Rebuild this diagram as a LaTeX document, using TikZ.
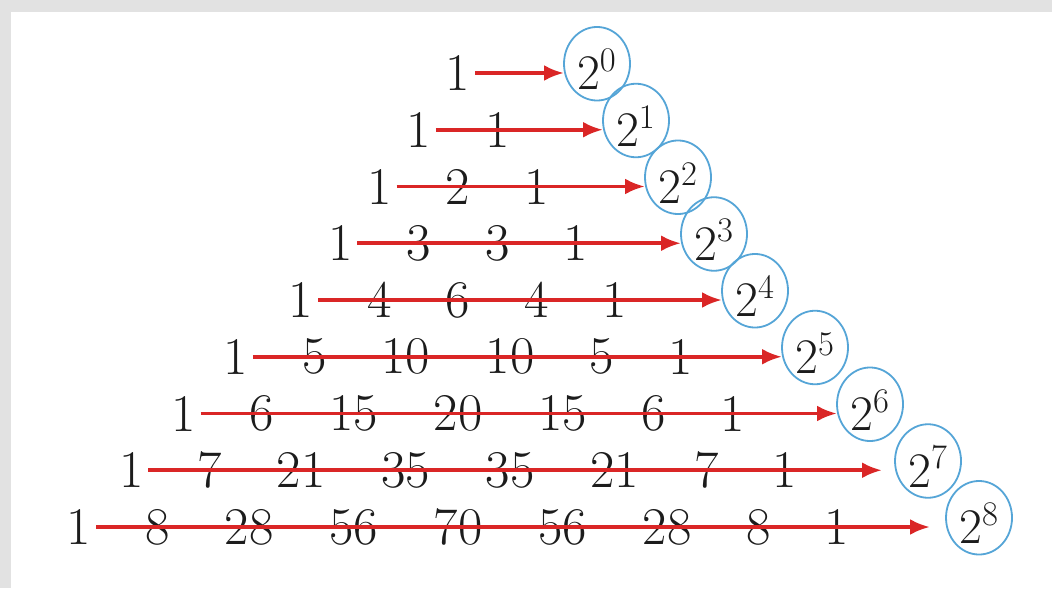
\documentclass[tikz,border=0pt]{standalone}
\usetikzlibrary{arrows.meta,shapes.geometric}
\definecolor{arrred}{RGB}{218,38,38}
\definecolor{circblue}{RGB}{85,165,215}
\definecolor{txtcol}{RGB}{28,28,28}
\definecolor{framegray}{RGB}{226,226,226}
\begin{document}
\begin{tikzpicture}[x=0.5pt,y=-0.5pt,
  num/.style={inner sep=0pt, outer sep=0pt, text=txtcol, font=\fontsize{26.5}{30}\selectfont},
  pow/.style={ellipse, draw=circblue, line width=0.9pt, inner sep=0pt, outer sep=0pt,
    minimum width=33pt, minimum height=36pt, text height=26pt, text depth=0pt,
    text=txtcol, font=\fontsize{26.5}{30}\selectfont, anchor=base},
  arr/.style={draw=arrred, line width=1.9pt, -{Latex[length=10pt,width=8pt]}}]
\useasboundingbox (0,0) rectangle (1052,588);
\fill[white] (0,0) rectangle (1052,588);
\fill[framegray] (0,0) rectangle (1052,12);
\fill[framegray] (0,0) rectangle (11,588);
% rows of Pascal's triangle
\foreach \xx/\lab [count=\i from 0] in {458/1}
  \node[num] (r0-c\i) at (\xx,73) {\lab};
\foreach \xx/\lab [count=\i from 0] in {418.75/1,497.25/1}
  \node[num] (r1-c\i) at (\xx,129.75) {\lab};
\foreach \xx/\lab [count=\i from 0] in {379.5/1,458/2,536.5/1}
  \node[num] (r2-c\i) at (\xx,186.5) {\lab};
\foreach \xx/\lab [count=\i from 0] in {340.25/1,418.75/3,497.25/3,575.75/1}
  \node[num] (r3-c\i) at (\xx,243.25) {\lab};
\foreach \xx/\lab [count=\i from 0] in {301/1,379.5/4,458/6,536.5/4,615/1}
  \node[num] (r4-c\i) at (\xx,300) {\lab};
\foreach \xx/\lab [count=\i from 0] in {235.75/1,314.25/5,405.75/10,510.25/10,601.75/5,680.25/1}
  \node[num] (r5-c\i) at (\xx,356.75) {\lab};
\foreach \xx/\lab [count=\i from 0] in {183.5/1,262/6,353.5/15,458/20,562.5/15,654/6,732.5/1}
  \node[num] (r6-c\i) at (\xx,413.5) {\lab};
\foreach \xx/\lab [count=\i from 0] in {131.25/1,209.75/7,301.25/21,405.75/35,510.25/35,614.75/21,706.25/7,784.75/1}
  \node[num] (r7-c\i) at (\xx,470.25) {\lab};
\foreach \xx/\lab [count=\i from 0] in {79/1,157.5/8,249/28,353.5/56,458/70,562.5/56,667/28,758.5/8,837/1}
  \node[num] (r8-c\i) at (\xx,527) {\lab};
% powers of two
\foreach \n/\px in {0/597,1/636,2/678,3/714,4/755,5/815,6/870,7/928,8/979}{
  \pgfmathsetmacro\by{89.75+56.75*\n}
  \node[pow] (p\n) at (\px,\by) {$2^{\n}$};
}
% arrows
\foreach \n in {0,...,6}
  \draw[arr] ([xshift=2.5pt]r\n-c0.east) -- (r\n-c0.east -| p\n.west);
\draw[arr, shorten >=6.5pt] ([xshift=2.5pt]r7-c0.east) -- (r7-c0.east -| p7.west);
\draw[arr, shorten >=8pt] ([xshift=2.5pt]r8-c0.east) -- (r8-c0.east -| p8.west);
\end{tikzpicture}
\end{document}
